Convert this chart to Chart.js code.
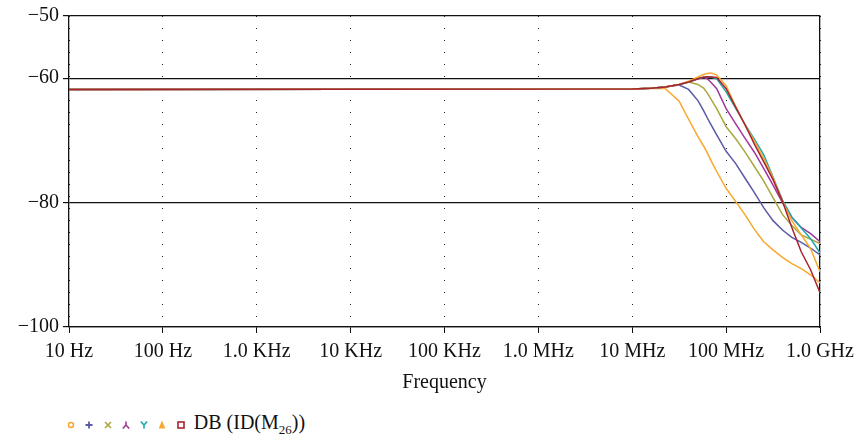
<!DOCTYPE html>
<html>
<head>
<meta charset="utf-8">
<script src="https://cdn.jsdelivr.net/npm/chart.js@4/dist/chart.umd.min.js"></script>
<style>
  html, body { margin: 0; padding: 0; background: #fff; }
  #wrap { position: relative; width: 861px; height: 400px; }
  #legend {
    position: absolute; left: 67px; top: 411px;
    font-family: "Liberation Serif", serif; font-size: 20px; color: #111;
    display: flex; align-items: center;
  }
  #legend sub { font-size: 13px; }
</style>
</head>
<body>
<div id="wrap"><canvas id="chart" width="861" height="400"></canvas></div>
<div id="legend"></div>
<script>
"use strict";
// frequency points (Hz)
var freqHz = [10, 1.0e7, 1.58e7, 2.24e7, 3.16e7, 3.98e7, 5.01e7, 5.75e7, 6.31e7, 6.92e7, 7.94e7,
              1.0e8, 1.26e8, 1.58e8, 2.0e8, 2.51e8, 3.16e8, 3.98e8, 5.01e8, 6.31e8, 7.94e8, 1.0e9];

// DB(ID(M26)) for each of the 7 sweeps
var sweepA = [-61.8, -61.75, -61.6, -61.65, -63.7, -66.6, -69.4, -70.9, -72.0, -73.3, -75.0,
              -77.7, -79.8, -81.9, -84.3, -86.3, -87.6, -88.8, -89.8, -90.6, -91.6, -92.9];
var sweepB = [-61.8, -61.75, -61.6, -61.4, -61.1, -61.8, -63.6, -65.2, -66.4, -67.5, -69.1,
              -71.75, -73.7, -76.0, -78.4, -80.8, -82.9, -84.4, -85.6, -86.4, -87.3, -88.4];
var sweepC = [-61.8, -61.75, -61.6, -61.4, -61.0, -60.6, -61.0, -61.6, -62.4, -63.4, -64.9,
              -67.8, -69.7, -71.8, -74.2, -76.5, -79.2, -81.9, -83.7, -85.2, -85.9, -86.6];
var sweepD = [-61.8, -61.75, -61.6, -61.4, -61.0, -60.6, -60.1, -59.85, -60.1, -60.7, -61.7,
              -64.9, -67.3, -69.6, -71.9, -74.5, -77.2, -80.0, -82.4, -84.0, -85.0, -86.3];
var sweepE = [-61.8, -61.75, -61.6, -61.4, -61.0, -60.6, -60.1, -59.85, -59.75, -59.8, -60.1,
              -62.2, -64.8, -67.4, -69.8, -72.3, -75.9, -79.6, -82.3, -84.1, -85.8, -88.1];
var sweepF = [-61.8, -61.75, -61.6, -61.4, -61.0, -60.5, -59.8, -59.4, -59.25, -59.15, -59.5,
              -61.2, -64.5, -67.5, -70.1, -72.9, -76.0, -79.8, -82.9, -85.2, -87.4, -91.1];
var sweepG = [-61.8, -61.75, -61.6, -61.4, -61.0, -60.6, -60.1, -59.85, -59.75, -59.8, -59.9,
              -61.7, -64.6, -67.4, -70.6, -73.4, -76.3, -79.8, -84.0, -87.9, -90.8, -94.5];

var xTickValues = [1e1, 1e2, 1e3, 1e4, 1e5, 1e6, 1e7, 1e8, 1e9];
var xTickLabels = ['10 Hz', '100 Hz', '1.0 KHz', '10 KHz', '100 KHz', '1.0 MHz', '10 MHz', '100 MHz', '1.0 GHz'];
var yTickValues = [-100, -80, -60, -50];

var sweeps = [sweepA, sweepB, sweepC, sweepD, sweepE, sweepF, sweepG];
var colors = ['#f8a82c', '#5a5aa8', '#a8a83e', '#a0379b', '#1fa9ad', '#f8a82c', '#a8232f'];
var drawOrder = [6, 5, 4, 3, 2, 1, 0];
var serif = '"Liberation Serif", "Times New Roman", serif';

var datasets = sweeps.map((vals, i) => ({
    label: 'DB (ID(M26))',
    data: vals.map((v, k) => ({x: freqHz[k], y: v})),
    borderColor: colors[i],
    borderWidth: 1.5,
    pointRadius: 0,
    tension: 0,
    fill: false,
    order: drawOrder[i]
}));

new Chart(document.getElementById('chart'), {
    type: 'line',
    data: {datasets: datasets},
    options: {
        responsive: false,
        animation: false,
        layout: {padding: {left: 0, right: 41, top: 13, bottom: 0}},
        plugins: {legend: {display: false}, tooltip: {enabled: false}},
        scales: {
            x: {
                type: 'logarithmic',
                min: 10, max: 1e9,
                afterBuildTicks: (s) => { s.ticks = xTickValues.map(v => ({value: v})); },
                afterFit: (s) => { s.height = 73; },
                ticks: {
                    color: '#111', font: {family: serif, size: 20}, padding: 7,
                    maxRotation: 0, autoSkip: false,
                    callback: (v) => xTickLabels[xTickValues.indexOf(v)]
                },
                grid: {color: '#222', lineWidth: 1, tickLength: 6, tickColor: '#111', tickBorderDash: []},
                border: {color: '#111', width: 1.3, dash: [1, 11]},
                title: {display: true, text: 'Frequency', color: '#111', font: {family: serif, size: 20}, padding: {top: 2, bottom: 5}}
            },
            y: {
                min: -100, max: -50,
                afterBuildTicks: (s) => { s.ticks = yTickValues.map(v => ({value: v})); },
                afterFit: (s) => { s.width = 69; },
                ticks: {
                    color: '#111', font: {family: serif, size: 20}, padding: 4,
                    callback: (v) => '\u2212' + Math.abs(v)
                },
                grid: {color: '#111', lineWidth: 1.2, tickLength: 6, tickColor: '#111'},
                border: {color: '#111', width: 1.3}
            },
            y2: {
                position: 'right',
                min: -100, max: -50,
                ticks: {display: false},
                grid: {drawOnChartArea: false, drawTicks: false},
                border: {color: '#111', width: 1.3},
                afterFit: (s) => { s.width = 0; }
            }
        }
    }
});

// legend with marker glyphs and subscripted label
var markers = [
    '<circle cx="4" cy="4" r="2.5" fill="none" stroke="' + colors[0] + '" stroke-width="1.5"/>',
    '<path d="M4 0.5V7.5M0.5 4H7.5" stroke="' + colors[1] + '" stroke-width="1.8"/>',
    '<path d="M1 1L7 7M7 1L1 7" stroke="' + colors[2] + '" stroke-width="1.6"/>',
    '<path d="M4 0.5V4L0.8 7.5M4 4L7.2 7.5" fill="none" stroke="' + colors[3] + '" stroke-width="1.6"/>',
    '<path d="M0.8 0.5L4 4L7.2 0.5M4 4V7.5" fill="none" stroke="' + colors[4] + '" stroke-width="1.6"/>',
    '<path d="M4 1L6 6H2Z M1 6.8H7" fill="' + colors[5] + '" stroke="' + colors[5] + '" stroke-width="1.2"/>',
    '<rect x="1" y="1" width="6" height="6" fill="none" stroke="' + colors[6] + '" stroke-width="1.6"/>'
];
var legendHtml = markers.map((m, i) => '<svg width="8" height="8" style="margin-right:' + (i < 6 ? 10.3 : 9) + 'px">' + m + '</svg>').join('');
legendHtml += '<span>DB (ID(M<sub>26</sub>))</span>';
document.getElementById('legend').innerHTML = legendHtml;
</script>
</body>
</html>
